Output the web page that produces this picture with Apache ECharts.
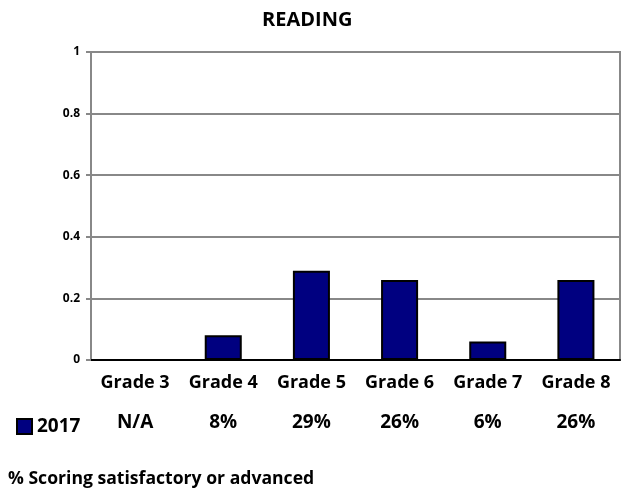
<!DOCTYPE html>
<html><head><meta charset="utf-8">
<script src="https://cdn.jsdelivr.net/npm/echarts@6/dist/echarts.min.js"></script>
<style>html,body{margin:0;padding:0;background:#fff}#c{width:622px;height:493px}</style>
</head><body><div id="c"></div>
<script>
const categories = ['Grade 3','Grade 4','Grade 5','Grade 6','Grade 7','Grade 8'];
const values2017 = [null, 0.08, 0.29, 0.26, 0.06, 0.26];
const tableLabels = ['N/A','8%','29%','26%','6%','26%'];
const yTicks = [0, 0.2, 0.4, 0.6, 0.8, 1];
const seriesName = '2017';
const titleText = 'READING';
const footText = '% Scoring satisfactory or advanced';

const FONT = 'Open Sans';
const chart = echarts.init(document.getElementById('c'), null, {renderer:'canvas'});
chart.setOption({
  animation:false,
  backgroundColor:'#fff',
  title:{text:titleText,left:257,top:5,textStyle:{fontFamily:FONT,fontWeight:'bold',fontSize:20,color:'#000'}},
  legend:{left:16,top:417,itemWidth:15,itemHeight:15,icon:'rect',itemGap:4,padding:0,
    textStyle:{fontFamily:FONT,fontWeight:'bold',fontSize:19,color:'#000'},
    data:[{name:seriesName,itemStyle:{color:'#000080',borderColor:'#000',borderWidth:2}}]},
  graphic:[{type:'text',left:8,top:470,style:{text:footText,fontFamily:FONT,fontWeight:'bold',fontSize:17.6,fill:'#000'}}],
  grid:{left:91,right:2,top:52,bottom:133,show:true,borderColor:'#888',borderWidth:2,backgroundColor:'transparent'},
  xAxis:[{type:'category',data:categories,
    axisLine:{lineStyle:{color:'#000',width:2}},axisTick:{show:false},
    axisLabel:{interval:0,fontFamily:FONT,fontWeight:'bold',fontSize:18,color:'#000',margin:14}},
   {type:'category',data:tableLabels,position:'bottom',offset:39,
    axisLine:{show:false},axisTick:{show:false},
    axisLabel:{interval:0,fontFamily:FONT,fontWeight:'bold',fontSize:19,color:'#000',margin:14}}],
  yAxis:{type:'value',min:yTicks[0],max:yTicks[yTicks.length-1],interval:0.2,
    axisLine:{show:true,lineStyle:{color:'#888',width:2}},
    axisTick:{show:true,length:5,lineStyle:{color:'#888',width:2}},
    splitLine:{lineStyle:{color:'#888',width:2}},
    axisLabel:{fontFamily:FONT,fontWeight:'bold',fontSize:12,color:'#000',margin:11,
      formatter:v=>String(Math.round(v*10)/10)}},
  series:[{name:seriesName,type:'bar',data:values2017,barWidth:'42%',xAxisIndex:0,
    itemStyle:{color:'#000080',borderColor:'#000',borderWidth:2}}]
});
</script></body></html>
